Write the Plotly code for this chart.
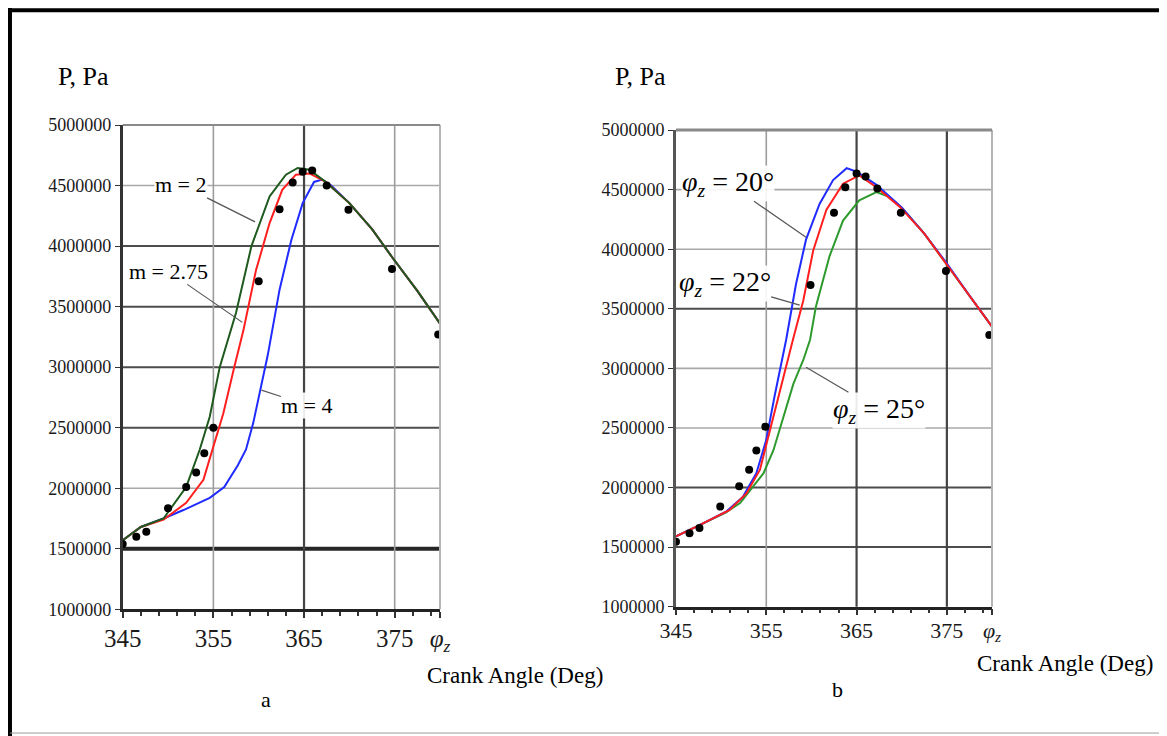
import plotly.graph_objects as go
from plotly.subplots import make_subplots

# ---- data (P in Pa, angle in degrees) ----
# panel a : exponent m
A_M2_X = [345, 347, 349.5, 352, 353.5, 354.6, 355.7, 356.6, 357.5, 359.2, 361.2, 363.0, 364.3,
          365.6, 367.4, 370, 372.5, 374.7, 377.5, 380]
A_M2_Y = [1570000, 1680000, 1750000, 2010000, 2320000, 2590000, 3000000, 3230000, 3450000, 4000000,
          4410000, 4590000, 4645000, 4630000, 4530000, 4355000, 4140000, 3910000, 3630000, 3360000]

A_M275_X = [345, 347, 349.5, 352, 353.9, 355.0, 356.1, 357.3, 358.3, 359.7, 361.2, 362.6, 364.1,
            365.6, 367.4, 370, 372.5, 374.7, 377.5, 380]
A_M275_Y = [1570000, 1680000, 1740000, 1880000, 2070000, 2340000, 2620000, 3000000, 3300000, 3800000,
            4190000, 4465000, 4590000, 4600000, 4530000, 4355000, 4140000, 3910000, 3630000, 3360000]

A_M4_X = [345, 347, 349.5, 351.7, 354.6, 356.2, 357.7, 358.6, 359.4, 360.1, 361.0, 362.3, 363.6,
          364.85, 366.1, 367.0, 368, 370, 372.5, 374.7, 377.5, 380]
A_M4_Y = [1570000, 1680000, 1750000, 1820000, 1920000, 2010000, 2190000, 2320000, 2540000, 2790000,
          3100000, 3640000, 4050000, 4355000, 4530000, 4550000, 4500000, 4355000, 4140000, 3910000,
          3630000, 3360000]

A_EXP_X = [345, 346.5, 347.6, 350.0, 352.0, 353.1, 354.0, 355.0, 360.0, 362.3, 363.75, 364.85,
           365.9, 367.5, 369.9, 374.7, 379.8]
A_EXP_Y = [1540000, 1600000, 1640000, 1835000, 2010000, 2130000, 2290000, 2500000, 3710000, 4305000,
           4525000, 4615000, 4625000, 4500000, 4300000, 3810000, 3270000]

# panel b : ignition angle phi_z
B_20_X = [345, 347.5, 350.6, 352.4, 353.9, 355.0, 355.9, 357.2, 358.3, 359.4, 360.9, 362.4, 363.9,
          365.0, 367.2, 370, 372.5, 375, 377.5, 380]
B_20_Y = [1590000, 1680000, 1800000, 1920000, 2120000, 2400000, 2760000, 3240000, 3710000, 4080000,
          4380000, 4580000, 4680000, 4650000, 4540000, 4350000, 4130000, 3880000, 3610000, 3350000]

B_22_X = [345, 347.5, 350.9, 352.8, 354.3, 355.4, 356.5, 357.95, 359.1, 360.2, 361.65, 363.5, 365.3,
          367.2, 369.8, 372.5, 374.9, 377.5, 380]
B_22_Y = [1590000, 1680000, 1810000, 1950000, 2150000, 2480000, 2820000, 3240000, 3570000, 3990000,
          4330000, 4550000, 4620000, 4520000, 4355000, 4130000, 3880000, 3610000, 3350000]

B_25_X = [345, 347.5, 350.5, 352.1, 353.2, 354.7, 355.8, 356.9, 358.0, 359.1, 359.85, 360.5, 362.0,
          363.5, 365.3, 367.2, 368.6, 370.1, 372.5, 374.9, 377.5, 380]
B_25_Y = [1590000, 1680000, 1790000, 1870000, 1980000, 2120000, 2315000, 2590000, 2870000, 3070000,
          3240000, 3520000, 3940000, 4240000, 4410000, 4480000, 4440000, 4340000, 4130000, 3880000,
          3610000, 3350000]

B_EXP_X = [345, 346.5, 347.6, 349.9, 352.0, 353.1, 353.9, 354.9, 359.9, 362.5, 363.75, 365.0,
           366.0, 367.3, 369.9, 374.9, 379.7]
B_EXP_Y = [1545000, 1616000, 1660000, 1840000, 2010000, 2150000, 2310000, 2510000, 3700000, 4305000,
           4520000, 4635000, 4610000, 4510000, 4305000, 3816000, 3280000]

X_TICKS = [345, 355, 365, 375, 380]
X_TICKTEXT = ["345", "355", "365", "375", "<i>φ<sub>z</sub></i>"]
Y_TICKS = [1000000, 1500000, 2000000, 2500000, 3000000, 3500000, 4000000, 4500000, 5000000]
GRID_X = [355, 365, 375]

# emphasised grid lines (as they appear darker in the source)
A_DARK_H = [2500000, 3000000, 3500000, 4000000]
A_HEAVY_H = [1500000]
A_DARK_V = [365]
B_DARK_H = [1500000, 2000000, 3500000]
B_HEAVY_H = [5000000]
B_DARK_V = [365, 375]

_FONT = "Liberation Serif, Times New Roman, serif"
_BLUE = "#1f2bff"
_RED = "#ff1f1f"
_GREEN_A = "#1e5a1e"
_GREEN_B = "#2e9a2e"

fig = make_subplots(rows=1, cols=2)


def line(x, y, color, col):
    fig.add_trace(go.Scatter(x=x, y=y, mode="lines", line=dict(color=color, width=2),
                             showlegend=False, hoverinfo="skip"), row=1, col=col)


def dots(x, y, col):
    fig.add_trace(go.Scatter(x=x, y=y, mode="markers",
                             marker=dict(color="black", size=8),
                             showlegend=False), row=1, col=col)


# --- panel a ---
line(A_M4_X, A_M4_Y, _BLUE, 1)
line(A_M275_X, A_M275_Y, _RED, 1)
line(A_M2_X, A_M2_Y, _GREEN_A, 1)
dots(A_EXP_X, A_EXP_Y, 1)

# --- panel b ---
line(B_25_X, B_25_Y, _GREEN_B, 2)
line(B_20_X, B_20_Y, _BLUE, 2)
line(B_22_X, B_22_Y, _RED, 2)
dots(B_EXP_X, B_EXP_Y, 2)

# --- grid (drawn by hand so some lines can be darker, as in the source) ---
grid_spec = {1: (A_DARK_H, A_HEAVY_H, A_DARK_V), 2: (B_DARK_H, B_HEAVY_H, B_DARK_V)}
for c, (dark_h, heavy_h, dark_v) in grid_spec.items():
    for v in Y_TICKS[1:-1]:
        if v in heavy_h:
            clr, w = "#262626", 4
        elif v in dark_h:
            clr, w = "#4d4d4d", 2
        else:
            clr, w = "#a8a8a8", 1.6
        fig.add_hline(y=v, line_color=clr, line_width=w, layer="below", row=1, col=c)
    for v in GRID_X:
        clr, w = ("#444444", 2.2) if v in dark_v else ("#9c9c9c", 1.6)
        fig.add_vline(x=v, line_color=clr, line_width=w, layer="below", row=1, col=c)

# right / top borders of each plot area
for xr, yr, top_w in (("x", "y", 2), ("x2", "y2", 3)):
    fig.add_shape(type="line", xref=f"{xr} domain", yref=f"{yr} domain",
                  x0=1, x1=1, y0=0, y1=1, line=dict(color="#b5b5b5", width=2))
    fig.add_shape(type="line", xref=f"{xr} domain", yref=f"{yr} domain",
                  x0=0, x1=1, y0=1, y1=1, line=dict(color="#8a8a8a", width=top_w))

# outer frame of the picture (page body adds an 8px offset)
fig.add_shape(type="line", xref="paper", yref="paper", x0=0.0017, x1=0.0017, y0=0, y1=1,
              line=dict(color="black", width=4))
fig.add_shape(type="line", xref="paper", yref="paper", x0=0.0017, x1=1, y0=0.997, y1=0.997,
              line=dict(color="black", width=4))
fig.add_shape(type="line", xref="paper", yref="paper", x0=0.0017, x1=1, y0=0.0149, y1=0.0149,
              line=dict(color="#9a9a9a", width=1))

# --- curve labels with leader lines ---
lab_font = dict(family=_FONT, size=22, color="black")
phi_font = dict(family=_FONT, size=28, color="black")
leaders = [
    ("x", "y", 359.6, 4200000, "m = 2", -74, -37, lab_font),
    ("x", "y", 358.2, 3370000, "m = 2.75", -74, -51, lab_font),
    ("x", "y", 360.3, 2810000, "m = 4", 46, 15, lab_font),
    ("x2", "y2", 359.4, 4100000, "<i>φ<sub>z</sub></i> = 20°", -78, -54, phi_font),
    ("x2", "y2", 358.7, 3530000, "<i>φ<sub>z</sub></i> = 22°", -75, -22, phi_font),
    ("x2", "y2", 359.4, 3010000, "<i>φ<sub>z</sub></i> = 25°", 73, 43, phi_font),
]
for xr, yr, x, y, txt, ax, ay, fnt in leaders:
    fig.add_annotation(x=x, y=y, xref=xr, yref=yr, text=txt, showarrow=True, arrowhead=0,
                       arrowwidth=1.2, arrowcolor="#555555", ax=ax, ay=ay, font=fnt,
                       bgcolor="rgba(255,255,255,0.9)", borderpad=0)

# --- free text ---
for x, y, t, s in [(0.0651, 0.9076, "P, Pa", 26), (0.5416, 0.9076, "P, Pa", 26),
                   (0.4344, 0.0924, "Crank Angle (Deg)", 23),
                   (0.9057, 0.1087, "Crank Angle (Deg)", 23),
                   (0.2211, 0.0598, "a", 22), (0.7112, 0.0734, "b", 22)]:
    fig.add_annotation(x=x, y=y, xref="paper", yref="paper", text=t, showarrow=False,
                       xanchor="center", yanchor="middle",
                       font=dict(family=_FONT, size=s, color="black"))

# --- axes ---
xdom = {1: [0.0983, 0.3702], 2: [0.5724, 0.8432]}
ydom = {1: [0.1830, 0.8410], 2: [0.1866, 0.8342]}
standoff = {1: -1, 2: -4}
xfont = {1: 25, 2: 22}
ycol = {1: "#333333", 2: "#555555"}
for c in (1, 2):
    fig.update_xaxes(domain=xdom[c], range=[345, 380], tickmode="array", tickvals=X_TICKS,
                     ticktext=X_TICKTEXT, ticks="outside", ticklen=6, tickwidth=1.5,
                     tickcolor="#333333", ticklabelstandoff=standoff[c], automargin=False,
                     minor=dict(tickmode="linear", tick0=345, dtick=2, ticks="outside",
                                ticklen=4, tickcolor="#333333", showgrid=False),
                     showline=True, linecolor="#222222", linewidth=2.5,
                     showgrid=False, zeroline=False,
                     tickfont=dict(family=_FONT, size=xfont[c], color="#1a1a1a"), row=1, col=c)
    fig.update_yaxes(domain=ydom[c], range=[1000000, 5000000], tickmode="array", tickvals=Y_TICKS,
                     tickformat="d", ticks="outside", ticklen=5, tickcolor="#333333",
                     automargin=False,
                     showline=True, linecolor=ycol[c], linewidth=2.5 if c == 1 else 3,
                     showgrid=False, zeroline=False,
                     tickfont=dict(family=_FONT, size=18, color="#1a1a1a"), row=1, col=c)

fig.update_layout(width=1167, height=736, margin=dict(l=0, r=0, t=0, b=0, autoexpand=False),
                  paper_bgcolor="white", plot_bgcolor="white", showlegend=False,
                  font=dict(family=_FONT))

fig.write_html("out.html")
